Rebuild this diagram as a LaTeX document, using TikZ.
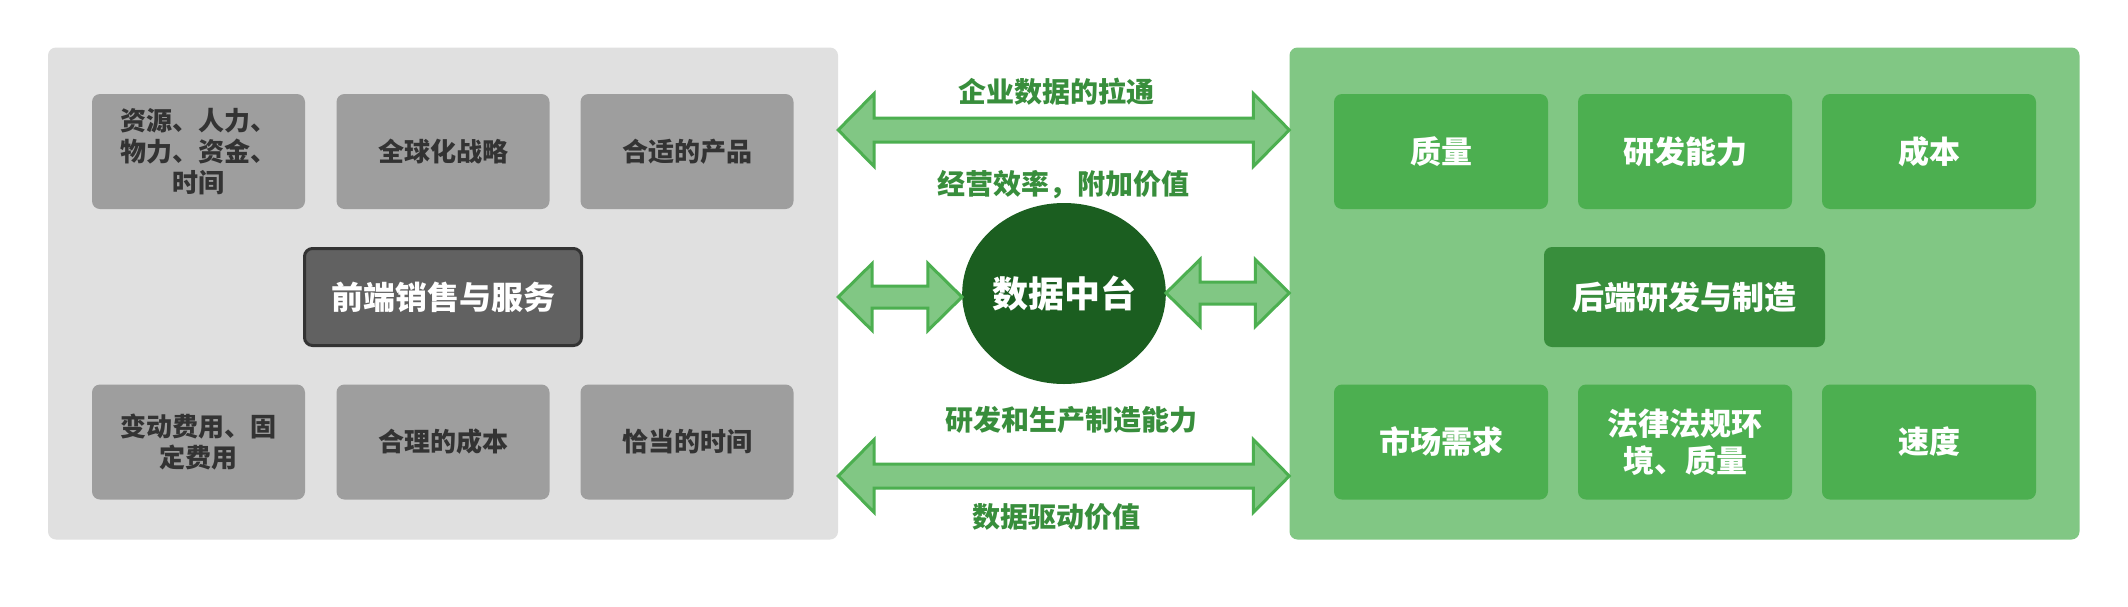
\documentclass[tikz,border=0pt]{standalone}
\usepackage{fontspec}
\setmainfont{Noto Sans CJK SC}
\usetikzlibrary{shapes.geometric}
\usetikzlibrary{calc}

\definecolor{panelgray}{HTML}{E0E0E0}
\definecolor{boxgray}{HTML}{9E9E9E}
\definecolor{frontgray}{HTML}{616161}
\definecolor{textdark}{HTML}{333333}
\definecolor{panelgreen}{HTML}{81C784}
\definecolor{boxgreen}{HTML}{4CAF50}
\definecolor{backgreen}{HTML}{388E3C}
\definecolor{hubgreen}{HTML}{1B5E20}

\tikzset{
  panel/.style={rounded corners=8pt, minimum width=790pt, minimum height=492pt, inner sep=0pt},
  greybox/.style={fill=boxgray, text=textdark, rounded corners=8pt, minimum width=213pt,
    minimum height=115pt, inner sep=0pt, align=center, font=\fontsize{26}{31}\selectfont\bfseries},
  greenbox/.style={fill=boxgreen, text=white, rounded corners=8pt, minimum width=214pt,
    minimum height=115pt, inner sep=0pt, align=center, font=\fontsize{31}{37}\selectfont\bfseries},
  corebox/.style={rounded corners=8pt, text=white, inner sep=0pt, font=\fontsize{32}{38}\selectfont\bfseries},
  flowlabel/.style={text=backgreen, inner sep=0pt, font=\fontsize{28}{32}\selectfont\bfseries},
  fatline/.style={draw=boxgreen, fill=panelgreen, line width=3pt, line join=miter}
}

% fat double arrow: from, to, head length, head half width, shaft half width
\newcommand\fatarrow[5]{%
  \draw[fatline] let \p1=(#1), \p2=(#2) in
    (\x1,\y1) -- (\x1+#3,\y1+#4) -- (\x1+#3,\y1+#5) -- (\x2-#3,\y2+#5) -- (\x2-#3,\y2+#4)
    -- (\x2,\y2) -- (\x2-#3,\y2-#4) -- (\x2-#3,\y2-#5) -- (\x1+#3,\y1-#5) -- (\x1+#3,\y1-#4) -- cycle;}

\begin{document}
\begin{tikzpicture}[x=1pt,y=-1pt]
  \useasboundingbox[fill=white] (0,0) rectangle (2128,606);

  % Front panel
  \node[panel, fill=panelgray] (front) at (443,293.5) {};
  \node[greybox] (res) at (198.5,151.5) {资源、人力、\\物力、资金、\\时间};
  \node[greybox] (glob) at (443,151.5) {全球化战略};
  \node[greybox] (prod) at (687,151.5) {合适的产品};
  \node[corebox, fill=frontgray, draw=textdark, line width=3pt,
        minimum width=277pt, minimum height=97pt] (sales) at (443,297) {前端销售与服务};
  \node[greybox] (cost) at (198.5,442) {变动费用、固\\定费用};
  \node[greybox] (fair) at (443,442) {合理的成本};
  \node[greybox] (time) at (687,442) {恰当的时间};

  % Back panel
  \node[panel, fill=panelgreen] (back) at (1684.5,293.5) {};
  \node[greenbox] (qual) at (1441,151.5) {质量};
  \node[greenbox] (rnd) at (1685,151.5) {研发能力};
  \node[greenbox] (bcost) at (1929,151.5) {成本};
  \node[corebox, fill=backgreen, minimum width=281pt, minimum height=100pt] (make) at (1684.5,297) {后端研发与制造};
  \node[greenbox] (market) at (1441,442) {市场需求};
  \node[greenbox] (law) at (1685,442) {法律法规环\\境、质量};
  \node[greenbox] (speed) at (1929,442) {速度};

  % Hub
  \node[ellipse, fill=hubgreen, text=white, minimum width=202pt, minimum height=181pt, inner sep=0pt,
        font=\fontsize{36}{40}\selectfont\bfseries] (hub) at (1064,293.5) {数据中台};

  % Arrows
  \fatarrow{front.east |- 0,130}{back.west |- 0,130}{36pt}{36.5pt}{12pt}
  \fatarrow{front.east |- 0,297}{hub.west |- 0,297}{34pt}{33.5pt}{11pt}
  \fatarrow{hub.east |- 0,293}{back.west |- 0,293}{34pt}{33.5pt}{11pt}
  \fatarrow{front.east |- 0,476}{back.west |- 0,476}{36pt}{36.5pt}{12pt}

  % Labels
  \node[flowlabel] (pull) at (1056,92) {企业数据的拉通};
  \node[flowlabel] (eff) at (1063,185) {经营效率，附加价值};
  \node[flowlabel] (ability) at (1071,420) {研发和生产制造能力};
  \node[flowlabel] (drive) at (1056,517) {数据驱动价值};
\end{tikzpicture}
\end{document}
